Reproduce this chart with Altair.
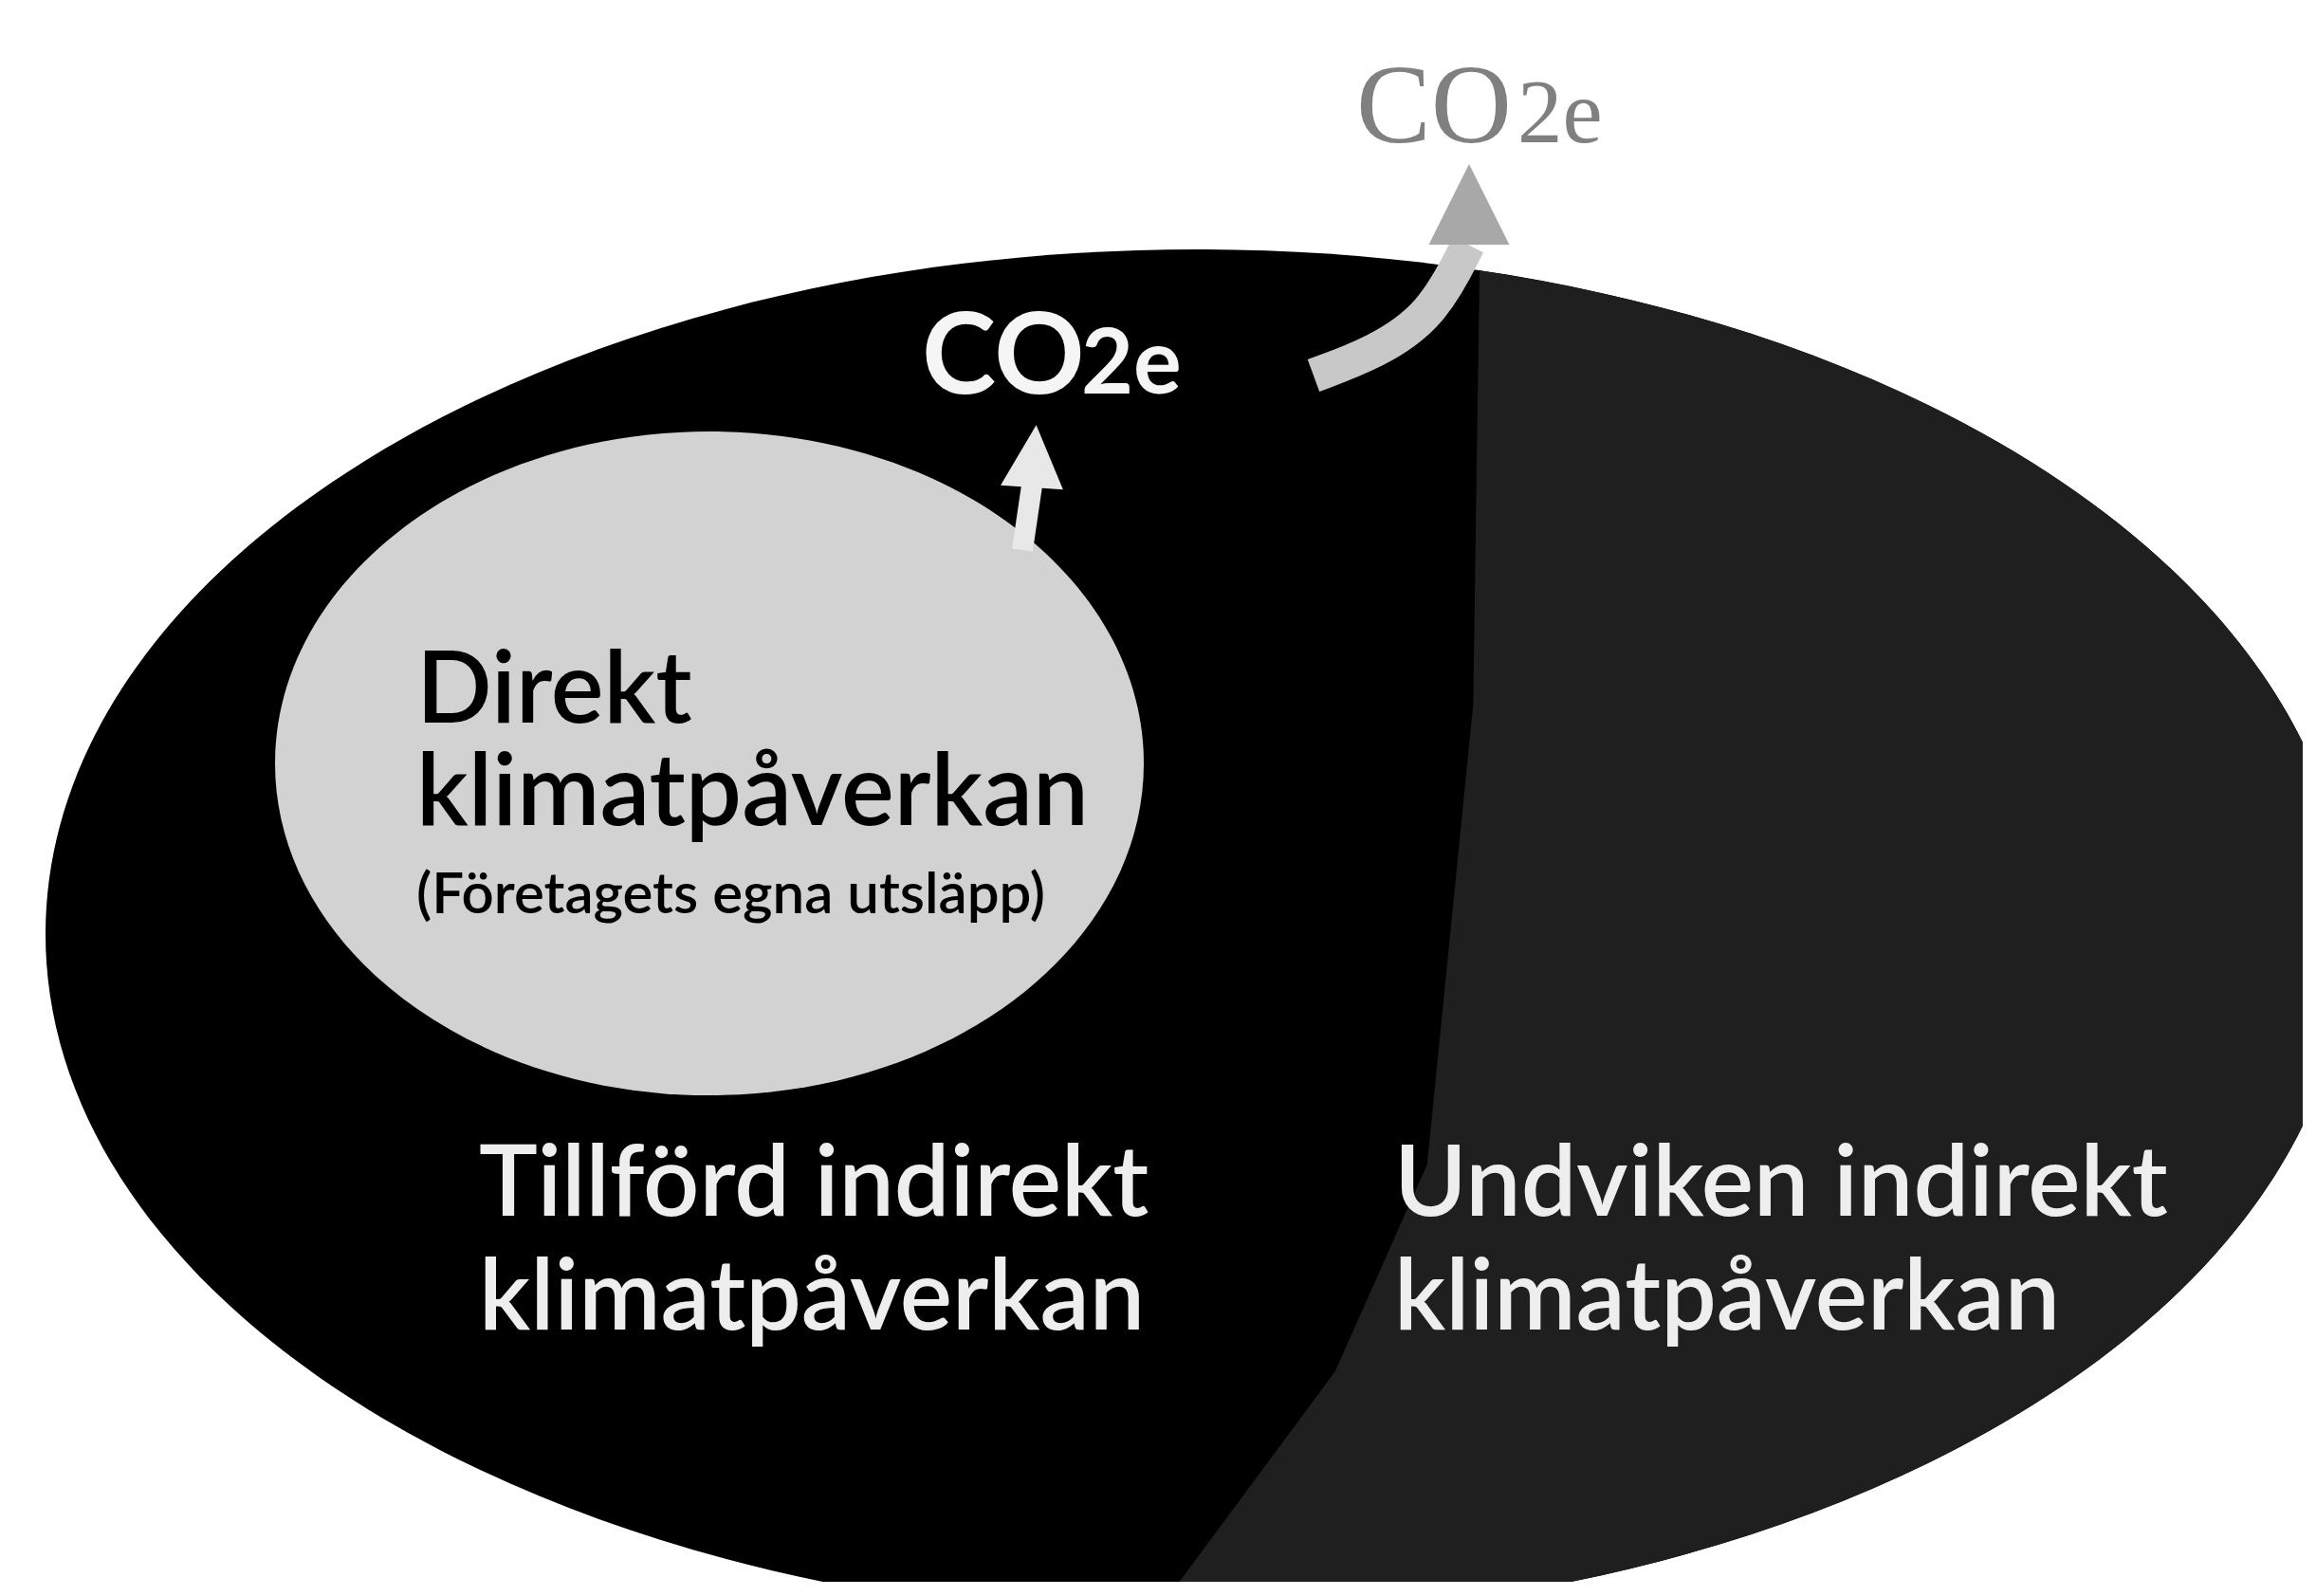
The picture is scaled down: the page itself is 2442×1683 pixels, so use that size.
import altair as alt
import pandas as pd

# ---------------- canvas: data coordinates are image pixels ----------------
PLOT_W, PLOT_H = 2420, 1660
x_scale = alt.Scale(domain=[8, 8 + PLOT_W], nice=False, zero=False)
y_scale = alt.Scale(domain=[8, 8 + PLOT_H], nice=False, zero=False, reverse=True)

# ---------------- data ----------------
# big ellipse (indirect climate impact) and the inner ellipse (direct impact)
outer_x, outer_y = [1262], [985]
inner_x, inner_y = [748], [805]

# text inside the inner ellipse
direct_text = ["Direkt", "klimatpåverkan"]
direct_x = [439, 439]
direct_y = [762, 870]

note_text = ["(Företagets egna utsläpp)"]
note_x = [439]
note_y = [963]

# texts in the lower part of the big ellipse
bottom_text = ["Tillförd indirekt", "klimatpåverkan", "Undviken indirekt", "klimatpåverkan"]
bottom_x = [505, 505, 1470, 1470]
bottom_y = [1282, 1402, 1282, 1402]

# CO2e labels (main part + smaller "2e")
co_white_text, co_white_x, co_white_y = ["CO"], [972], [415]
e_white_text, e_white_x, e_white_y = ["2e"], [1140], [415]
co_gray_text, co_gray_x, co_gray_y = ["CO"], [1430], [150]
e_gray_text, e_gray_x, e_gray_y = ["2e"], [1600], [150]

# arrows
white_shaft = dict(x=[1078], y=[580], x2=[1088], y2=[512])
white_head_x, white_head_y = [1088], [514]
gray_shaft_x = [1385, 1450, 1510, 1548]
gray_shaft_y = [396, 372, 333, 258]
gray_head_x, gray_head_y = [1549], [258]

# ---------------- shapes (unit paths for symbols) ----------------
ELLIPSE_OUTER = "M -1 0 A 1 0.5947 0 1 1 1 0 A 1 0.5947 0 1 1 -1 0 Z"
AVOIDED_PART = ("M 0.2455 -0.5765 A 1 0.5947 0 0 1 -0.0387 0.5943 "
                "L 0.12 0.38 L 0.2 0.2 L 0.24 -0.2 Z")
ELLIPSE_INNER = "M -1 0 A 1 0.7642 0 1 1 1 0 A 1 0.7642 0 1 1 -1 0 Z"
TRIANGLE = "M 0 -1 L 0.5 0 L -0.5 0 Z"


def enc(chart):
    return chart.encode(
        x=alt.X("x:Q", scale=x_scale, axis=None),
        y=alt.Y("y:Q", scale=y_scale, axis=None),
    )


def pts(xs, ys, **extra):
    d = {"x": xs, "y": ys}
    d.update(extra)
    return pd.DataFrame(d)


outer = enc(alt.Chart(pts(outer_x, outer_y)).mark_point(
    shape=ELLIPSE_OUTER, size=2428 ** 2, filled=True, fill="#000000",
    strokeWidth=0, opacity=1, clip=True))

avoided = enc(alt.Chart(pts(outer_x, outer_y)).mark_point(
    shape=AVOIDED_PART, size=2428 ** 2, filled=True, fill="#1f1f1f",
    strokeWidth=0, opacity=1, clip=True))

inner = enc(alt.Chart(pts(inner_x, inner_y)).mark_point(
    shape=ELLIPSE_INNER, size=916 ** 2, filled=True, fill="#d2d2d2",
    strokeWidth=0, opacity=1, clip=True))

white_shaft_layer = alt.Chart(pd.DataFrame(white_shaft)).mark_rule(
    color="#e8e8e8", strokeWidth=22).encode(
    x=alt.X("x:Q", scale=x_scale, axis=None),
    y=alt.Y("y:Q", scale=y_scale, axis=None),
    x2="x2:Q", y2="y2:Q")

white_head = enc(alt.Chart(pts(white_head_x, white_head_y)).mark_point(
    shape=TRIANGLE, size=132 ** 2, angle=4, filled=True, fill="#e8e8e8",
    strokeWidth=0, opacity=1))

gray_shaft = alt.Chart(pts(gray_shaft_x, gray_shaft_y, i=list(range(len(gray_shaft_x))))).mark_line(
    color="#c8c8c8", strokeWidth=36, interpolate="basis", strokeCap="butt").encode(
    x=alt.X("x:Q", scale=x_scale, axis=None),
    y=alt.Y("y:Q", scale=y_scale, axis=None),
    order="i:O")

gray_head = enc(alt.Chart(pts(gray_head_x, gray_head_y)).mark_point(
    shape=TRIANGLE, size=170 ** 2, filled=True, fill="#a8a8a8",
    strokeWidth=0, opacity=1))


def text_layer(texts, xs, ys, **style):
    return enc(alt.Chart(pts(xs, ys, t=texts)).mark_text(
        align="left", baseline="alphabetic", **style)).encode(text="t:N")


direct = text_layer(direct_text, direct_x, direct_y, font="Lato",
                    fontSize=105, fontWeight=600, color="#000000")
note = text_layer(note_text, note_x, note_y, font="Lato",
                  fontSize=60, fontWeight=600, color="#000000")
bottom = text_layer(bottom_text, bottom_x, bottom_y, font="Lato",
                    fontSize=104, fontWeight=600, color="#eeeeee")
co_white = text_layer(co_white_text, co_white_x, co_white_y, font="Lato",
                      fontSize=118, fontWeight="bold", color="#f5f5f5")
e_white = text_layer(e_white_text, e_white_x, e_white_y, font="Lato",
                     fontSize=95, fontWeight="bold", color="#f5f5f5")
co_gray = text_layer(co_gray_text, co_gray_x, co_gray_y, font="Liberation Serif",
                     fontSize=118, color="#808080")
e_gray = text_layer(e_gray_text, e_gray_x, e_gray_y, font="Liberation Serif",
                    fontSize=95, color="#808080")

chart = alt.layer(
    outer, avoided, inner,
    white_shaft_layer, white_head, gray_shaft, gray_head,
    direct, note, bottom, co_white, e_white, co_gray, e_gray,
).properties(
    width=PLOT_W, height=PLOT_H, padding=0,
    autosize=alt.AutoSizeParams(type="none"),
    background="white",
).configure_view(stroke=None)

chart.save("out.html", embed_options={"renderer": "svg", "actions": False})
